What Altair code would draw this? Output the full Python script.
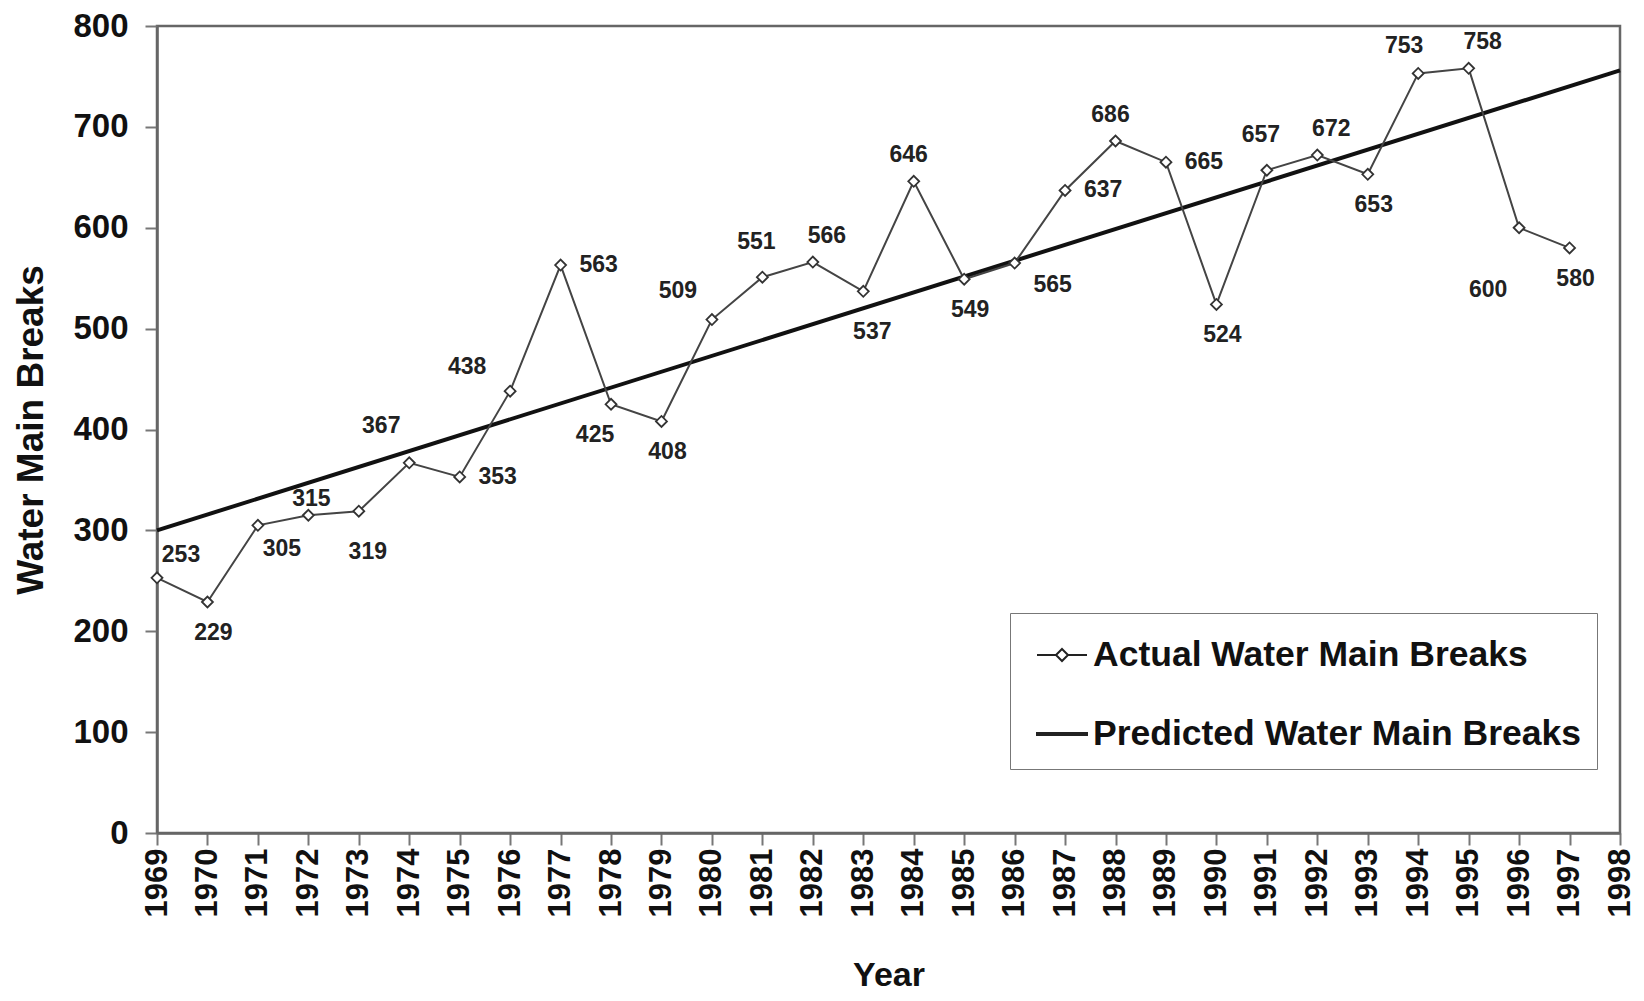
import altair as alt
import pandas as pd

# ---- data ----
years = list(range(1969, 1998))
actual = [253, 229, 305, 315, 319, 367, 353, 438, 563, 425, 408, 509, 551, 566, 537,
          646, 549, 565, 637, 686, 665, 524, 657, 672, 653, 753, 758, 600, 580]
# where each value label sits relative to its point
placement = ["ur2", "b", "br", "a2", "b2", "ul2", "r", "ul3", "r", "bl", "b", "ul", "a", "ur", "b2",
             "a3", "b", "br2", "r", "a3", "r", "b", "a", "ur", "b", "ul4", "ur", "bl2", "b"]

pred_years = [1969, 1998]
pred_values = [300, 756]

tick_years = list(range(1969, 1999))
y_ticks = list(range(0, 801, 100))

series_names = ["Actual Water Main Breaks", "Predicted Water Main Breaks"]

# ---- styling ----
FONT = "Liberation Sans"
offsets = {
    "ur": (14, -26), "ur2": (24, -23), "a": (-6, -35), "a2": (3, -16), "a3": (-5, -26),
    "ul": (-34, -29), "ul2": (-28, -37), "ul3": (-43, -24), "ul4": (-14, -27),
    "b": (6, 31), "b2": (9, 41), "br": (24, 24), "br2": (38, 22), "r": (38, 0),
    "bl": (-16, 31), "bl2": (-31, 62),
}

df = pd.DataFrame({"year": years, "breaks": actual, "pos": placement})
pred_df = pd.DataFrame({"year": pred_years, "breaks": pred_values})
leg_df = pd.DataFrame({"series": series_names})

x_enc = alt.X("year:Q",
              scale=alt.Scale(domain=[1969, 1998], nice=False, zero=False),
              axis=alt.Axis(values=tick_years, format="d", labelAngle=270,
                            labelFontSize=31, labelFont=FONT, labelFontWeight="bold",
                            labelColor="#111", labelPadding=3,
                            tickSize=12, tickWidth=2, tickColor="#777",
                            domainColor="#666", domainWidth=2.5, grid=False,
                            title="Year", titleFontSize=34, titleFont=FONT,
                            titleFontWeight="bold", titleColor="#111", titlePadding=42))
y_enc = alt.Y("breaks:Q",
              scale=alt.Scale(domain=[0, 800], nice=False),
              axis=alt.Axis(values=y_ticks, labelFontSize=33, labelFont=FONT,
                            labelFontWeight="bold", labelColor="#111", labelPadding=17,
                            tickSize=12, tickWidth=2, tickColor="#777",
                            domainColor="#666", domainWidth=2.5, grid=False,
                            title="Water Main Breaks", titleFontSize=37, titleFont=FONT,
                            titleFontWeight="bold", titleColor="#111", titlePadding=22))

base = alt.Chart(df)

actual_line = base.mark_line(color="#444", strokeWidth=2).encode(x=x_enc, y=y_enc)
actual_pts = base.mark_point(shape="diamond", filled=True, fill="white", stroke="#333",
                             strokeWidth=1.8, size=120, opacity=1).encode(x="year:Q", y="breaks:Q")

pred_line = alt.Chart(pred_df).mark_line(color="#111", strokeWidth=4).encode(x="year:Q", y="breaks:Q")

label_layers = []
for code, (dx, dy) in offsets.items():
    label_layers.append(
        base.transform_filter(alt.datum.pos == code)
        .mark_text(dx=dx, dy=dy, font=FONT, fontWeight="bold", fontSize=23,
                   color="#222", align="center", baseline="middle")
        .encode(x="year:Q", y="breaks:Q", text="breaks:Q")
    )

# legend symbols: line with hollow diamond, and thick plain line (shifted right in their box)
sym_actual = "M-0.6,0L0.16,0M0.64,0L1.4,0M0.4,-0.24L0.64,0L0.4,0.24L0.16,0Z"
sym_pred = "M-0.6,-0.04L1.4,-0.04L1.4,0.04L-0.6,0.04Z"

legend_layer = alt.Chart(leg_df).mark_point(opacity=0).encode(
    shape=alt.Shape("series:N",
                    scale=alt.Scale(domain=series_names, range=[sym_actual, sym_pred]),
                    legend=alt.Legend(title=None, orient="none", legendX=853, legendY=587,
                                      direction="vertical",
                                      strokeColor="#777", fillColor="white", padding=16,
                                      rowPadding=34, symbolSize=2500, symbolStrokeWidth=2,
                                      symbolStrokeColor="#222", symbolFillColor="white",
                                      symbolOpacity=1, labelOffset=15,
                                      labelFont=FONT, labelFontWeight="bold",
                                      labelFontSize=35.5, labelColor="#111", labelLimit=700))
)

chart = alt.layer(pred_line, actual_line, actual_pts, *label_layers, legend_layer).properties(
    width=1463, height=807,
    autosize=alt.AutoSizeParams(type="none"),
    padding={"left": 149, "top": 18, "right": 16, "bottom": 160},
    background="white",
).configure_view(stroke="#666", strokeWidth=2.5)

chart.save("out.html", embed_options={"renderer": "svg", "actions": False})
